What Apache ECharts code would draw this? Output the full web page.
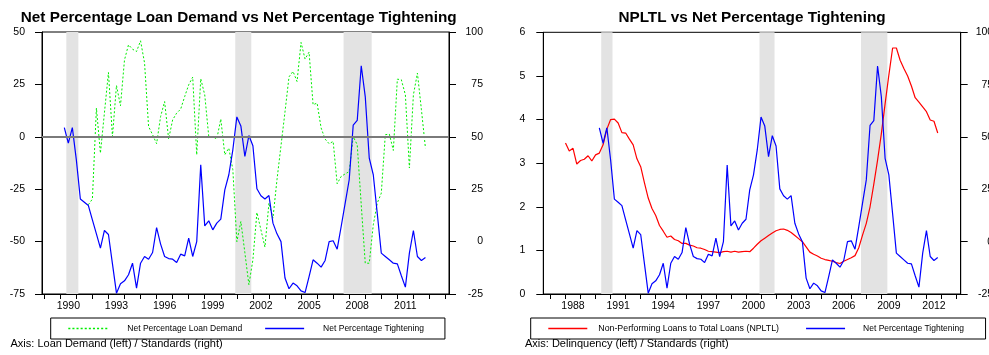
<!DOCTYPE html>
<html>
<head>
<meta charset="utf-8">
<script src="https://cdn.jsdelivr.net/npm/echarts@6/dist/echarts.min.js"></script>
<style>
html, body { margin: 0; padding: 0; background: #fff; }
#chart { width: 989px; height: 355px; }
</style>
</head>
<body>
<div id="chart"></div>
<script>
// Quarterly survey series (first observation date, then one value per quarter)
const tighteningStart = 1990.25;
const tightening = [
  54.4, 47.0, 54.4, 39.0, 20.3, 18.8, 17.2, 10.4, 3.7, -3.1,
  5.3, 3.4, -10.6, -24.6, -20.1, -18.7, -15.8, -10.3, -22.2, -10.3,
  -7.1, -8.4, -5.2, 6.7, -1.2, -7.1, -8.1, -8.4, -10.0, -6.0,
  -6.8, 1.7, -7.1, 0.0, 36.6, 7.5, 9.9, 5.6, 8.8, 10.7,
  24.7, 31.9, 43.8, 59.5, 55.2, 40.6, 50.6, 45.7, 25.2, 21.9,
  20.3, 22.0, 8.8, 3.7, 0.0, -17.4, -22.5, -19.8, -21.1, -23.5,
  -24.3, -16.7, -8.7, -10.3, -12.2, -9.0, 0.0, 0.4, -3.6, 7.2,
  18.4, 29.5, 55.6, 57.8, 83.9, 69.2, 39.8, 31.9, 13.3, -5.5,
  -7.1, -8.7, -10.3, -10.6, -16.3, -21.7, -5.5, 5.3, -7.1, -9.0,
  -7.6
];

const loanDemandStart = 1991.75;
const loanDemand = [
  -32.4, -29.7, 13.7, -7.8, 11.5, 30.7, 0.1, 24.5, 14.8, 36.7,
  43.9, 41.8, 40.7, 45.8, 35.2, 4.9, 1.0, -3.3, 9.7, 16.8,
  -1.1, 8.1, 11.3, 13.2, 19.2, 24.8, 28.5, -8.6, 27.7, 20.0,
  0.1, 0.1, -1.1, 8.5, -8.6, -5.4, -15.7, -50.0, -40.4, -55.3,
  -70.6, -58.7, -36.1, -44.4, -52.6, -31.6, -38.8, -20.5, -4.3, 11.9,
  28.6, 31.2, 26.4, 45.0, 37.1, 40.4, 15.3, 16.1, 4.2, -1.1,
  -3.3, -2.2, -22.4, -18.9, -17.7, -16.6, 0.1, -3.8, -32.4, -60.3,
  -60.3, -42.0, -31.6, -26.9, 1.0, 1.3, -6.5, 27.5, 27.2, 20.0,
  -14.9, 20.0, 30.4, 12.9, -5.4
];

const npltlStart = 1988.0;
const npltl = [
  3.46, 3.28, 3.34, 2.98, 3.06, 3.09, 3.17, 3.05, 3.19, 3.23,
  3.42, 3.78, 4.00, 4.01, 3.92, 3.70, 3.69, 3.55, 3.42, 3.10,
  2.92, 2.55, 2.20, 1.96, 1.80, 1.57, 1.44, 1.30, 1.33, 1.25,
  1.22, 1.16, 1.16, 1.12, 1.10, 1.06, 1.05, 1.02, 0.98, 0.97,
  0.96, 0.95, 0.97, 0.98, 0.96, 0.98, 0.96, 0.97, 0.98, 0.97,
  1.05, 1.14, 1.22, 1.28, 1.34, 1.40, 1.45, 1.48, 1.49, 1.46,
  1.41, 1.34, 1.27, 1.20, 1.08, 0.96, 0.91, 0.87, 0.82, 0.79,
  0.77, 0.75, 0.72, 0.70, 0.75, 0.79, 0.83, 0.88, 1.06, 1.35,
  1.62, 2.00, 2.52, 3.07, 3.67, 4.36, 5.02, 5.64, 5.64, 5.36,
  5.17, 5.00, 4.77, 4.50, 4.40, 4.29, 4.18, 3.99, 3.96, 3.69
];

// Recession periods (shaded), in decimal years
const recessions = [[1990.375, 1991.125], [2000.9, 2001.9], [2007.65, 2009.4]];

// Year labels along each time axis
const leftYears = [1990, 1993, 1996, 1999, 2002, 2005, 2008, 2011];
const rightYears = [1988, 1991, 1994, 1997, 2000, 2003, 2006, 2009, 2012];

const FONT = "'Liberation Sans', Arial, Helvetica, sans-serif";
const NAME_DEMAND = 'Net Percentage Loan Demand';
const NAME_TIGHT = 'Net Percentage Tightening';
const NAME_NPL = 'Non-Performing Loans to Total Loans (NPLTL)';

// Legend keys: a plain stroke and a dotted stroke
const ICON_SOLID = 'path://M0,0h40v1h-40z';
const ICON_DOTTED = 'path://M0,0h2v1h-2zM4,0h2v1h-2zM8,0h2v1h-2zM12,0h2v1h-2zM16,0h2v1h-2zM20,0h2v1h-2zM24,0h2v1h-2zM28,0h2v1h-2zM32,0h2v1h-2zM36,0h2v1h-2z';

function quarterly(start, values) {
  return values.map((v, i) => [start + i * 0.25, v]);
}
function range(a, b) {
  const out = [];
  for (let y = a; y <= b; y++) out.push(y);
  return out;
}
function bandData() {
  return recessions.map(r => [{ xAxis: r[0] }, { xAxis: r[1] }]);
}

function timeAxis(gridIndex, min, max, years, tickFrom, tickTo) {
  return {
    type: 'value', gridIndex, min, max,
    axisLine: { show: true, onZero: false, lineStyle: { color: '#000', width: 1 } },
    axisTick: { show: true, length: 5, customValues: range(tickFrom, tickTo), lineStyle: { color: '#000' } },
    axisLabel: {
      show: true, margin: 7, fontSize: 10.5, fontFamily: FONT, color: '#000',
      customValues: years.map(y => y + 0.5),
      formatter: v => String(Math.floor(v))
    },
    splitLine: { show: false }
  };
}
function valueAxis(gridIndex, position, min, max, interval, margin) {
  return {
    type: 'value', gridIndex, position, min, max, interval,
    axisLine: { show: true, onZero: false, lineStyle: { color: '#000', width: 1 } },
    axisTick: { show: true, length: 7, lineStyle: { color: '#000' } },
    axisLabel: {
      show: true, margin, fontSize: 10.5, fontFamily: FONT, color: '#000',
      align: 'right'
    },
    splitLine: { show: false }
  };
}
function legendBox(left, padding, items) {
  return {
    left, top: 318, orient: 'horizontal',
    padding, itemGap: 23, itemWidth: 39, itemHeight: 1.3,
    symbolKeepAspect: false,
    borderColor: '#000', borderWidth: 1, backgroundColor: '#fff',
    selectedMode: false,
    textStyle: { fontSize: 8.5, fontFamily: FONT, color: '#000', lineHeight: 13 },
    data: items
  };
}

const chart = echarts.init(document.getElementById('chart'), null, { renderer: 'canvas' });

chart.setOption({
  animation: false,
  backgroundColor: '#fff',
  title: [
    { text: 'Net Percentage Loan Demand vs Net Percentage Tightening', left: 238.7, top: 10.5, textAlign: 'center', padding: 0,
      textStyle: { fontSize: 15.3, fontWeight: 'bold', fontFamily: FONT, color: '#000' } },
    { text: 'NPLTL vs Net Percentage Tightening', left: 752, top: 10.5, textAlign: 'center', padding: 0,
      textStyle: { fontSize: 15.3, fontWeight: 'bold', fontFamily: FONT, color: '#000' } },
    { text: 'Axis: Loan Demand (left) / Standards (right)', left: 10.5, top: 338.5, padding: 0,
      textStyle: { fontSize: 11, fontWeight: 'normal', fontFamily: FONT, color: '#000' } },
    { text: 'Axis: Delinquency (left) / Standards (right)', left: 525, top: 338.5, padding: 0,
      textStyle: { fontSize: 11, fontWeight: 'normal', fontFamily: FONT, color: '#000' } }
  ],
  legend: [
    legendBox(50.7, [4, 21, 4, 17.6], [
      { name: NAME_DEMAND, icon: ICON_DOTTED, textStyle: { padding: [0, 0, 0, 15] } },
      { name: NAME_TIGHT, icon: ICON_SOLID, textStyle: { padding: [0, 0, 0, 14] } }
    ]),
    legendBox(530.7, [4, 21.7, 4, 17.6], [
      { name: NAME_NPL, icon: ICON_SOLID, textStyle: { fontSize: 8.8, padding: [0, 4, 0, 6] } },
      { name: NAME_TIGHT, icon: ICON_SOLID, textStyle: { padding: [0, 0, 0, 13] } }
    ])
  ],
  grid: [
    { left: 42, top: 32, width: 407, height: 262, show: true, borderColor: '#000', borderWidth: 1,
      containLabel: false, outerBoundsMode: 'none' },
    { left: 543.3, top: 32.3, width: 417.4, height: 261.7, show: true, borderColor: '#000', borderWidth: 1,
      containLabel: false, outerBoundsMode: 'none' }
  ],
  xAxis: [
    timeAxis(0, 1988.86, 2014.218, leftYears, 1989, 2014),
    timeAxis(1, 1986.524, 2014.277, rightYears, 1987, 2014)
  ],
  yAxis: [
    valueAxis(0, 'left', -75, 50, 25, 17),
    valueAxis(0, 'right', -25, 100, 25, 34),
    valueAxis(1, 'left', 0, 6, 1, 18),
    valueAxis(1, 'right', -25, 100, 25, 32.5)
  ],
  series: [
    {
      type: 'line', name: 'recessions-left', xAxisIndex: 0, yAxisIndex: 0, data: [], z: 1, silent: true,
      markArea: { silent: true, itemStyle: { color: '#e3e3e3' }, label: { show: false }, data: bandData() }
    },
    {
      type: 'line', name: NAME_DEMAND, xAxisIndex: 0, yAxisIndex: 0, z: 3,
      data: quarterly(loanDemandStart, loanDemand),
      symbol: 'none', showSymbol: false,
      lineStyle: { color: '#00ee00', width: 1, type: [2, 2] },
      itemStyle: { color: '#00ee00' },
      markLine: {
        silent: true, symbol: ['none', 'none'], label: { show: false },
        lineStyle: { color: '#7a7a7a', width: 2, type: 'solid' },
        data: [{ yAxis: 0 }]
      }
    },
    {
      type: 'line', name: NAME_TIGHT, xAxisIndex: 0, yAxisIndex: 1, z: 4,
      data: quarterly(tighteningStart, tightening),
      symbol: 'none', showSymbol: false,
      lineStyle: { color: '#0000ff', width: 1.2 },
      itemStyle: { color: '#0000ff' }
    },
    {
      type: 'line', name: 'recessions-right', xAxisIndex: 1, yAxisIndex: 2, data: [], z: 1, silent: true,
      markArea: { silent: true, itemStyle: { color: '#e3e3e3' }, label: { show: false }, data: bandData() }
    },
    {
      type: 'line', name: NAME_NPL, xAxisIndex: 1, yAxisIndex: 2, z: 3,
      data: quarterly(npltlStart, npltl),
      symbol: 'none', showSymbol: false,
      lineStyle: { color: '#ff0000', width: 1.2 },
      itemStyle: { color: '#ff0000' }
    },
    {
      type: 'line', name: NAME_TIGHT, xAxisIndex: 1, yAxisIndex: 3, z: 4,
      data: quarterly(tighteningStart, tightening),
      symbol: 'none', showSymbol: false,
      lineStyle: { color: '#0000ff', width: 1.2 },
      itemStyle: { color: '#0000ff' }
    }
  ]
});
</script>
</body>
</html>
